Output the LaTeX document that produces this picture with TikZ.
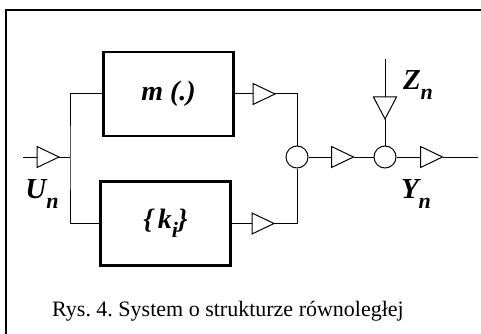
\documentclass[tikz,border=0pt]{standalone}
\usepackage{fontspec}
\setmainfont{Liberation Serif}
\newcommand{\lowsub}[1]{\raisebox{-0.32em}{\fontsize{22}{22}\selectfont #1}}
\begin{document}
\begin{tikzpicture}[x=1pt,y=-1pt,
  line width=1pt,
  blockbox/.style={draw,line width=2.8pt,minimum width=130pt,minimum height=84pt,inner sep=0pt,font=\fontsize{28}{28}\selectfont\bfseries\itshape},
  sumnode/.style={draw,circle,minimum size=22pt,inner sep=0pt,line width=1pt},
  lbl/.style={font=\fontsize{29}{29}\selectfont\bfseries\itshape,inner sep=0pt},
  pics/trir/.style={code={
    \coordinate (-in) at (-11,0);
    \coordinate (-out) at (11,0);
    \draw[line width=1pt] (-11,-10.5) -- (11,0) -- (-11,10.5) -- cycle;}},
  pics/trid/.style={code={
    \coordinate (-in) at (0,-11);
    \coordinate (-out) at (0,11);
    \draw[line width=1pt] (-11.5,-11) -- (0,11) -- (11.5,-11) -- cycle;}},
]
\useasboundingbox (0,0) rectangle (481,334);
% frame
\draw[line width=2pt] (6,334) -- (6,10) -- (481,10);
% blocks
\node[blockbox] (m) at (168.5,94) {m (.)};
\node[blockbox] (k) at (165.5,223.5) {\{\,k\lowsub{i}\}};
% input
\coordinate (uin) at (23,157);
\pic (tu) at (48,157) {trir};
\coordinate (j) at (70,157);
\draw (uin) -- (tu-in);
\draw (tu-out) -- (j);
\draw (m.west) -| (j) |- (k.west);
\node[lbl] (un) at (42,194) {U\lowsub{n}};
% branch outputs
\pic (tm) at (264,94) {trir};
\pic (tk) at (263,223.5) {trir};
\node[sumnode] (s1) at (297,157) {};
\draw (m.east) -- (tm-in);
\draw (k.east) -- (tk-in);
\draw (tm-out) -| (s1.north);
\draw (tk-out) -| (s1.south);
% middle
\pic (tc) at (342.5,157) {trir};
\node[sumnode] (s2) at (385,157) {};
\draw (s1.east) -- (tc-in);
\draw (tc-out) -- (s2.west);
% disturbance
\coordinate (zin) at (385,59);
\pic (tz) at (385,108) {trid};
\draw (zin) -- (tz-in);
\draw (tz-out) -- (s2.north);
\node[lbl] (zn) at (418,85) {Z\lowsub{n}};
% output
\pic (to) at (431.5,157) {trir};
\coordinate (yout) at (478,157);
\draw (s2.east) -- (to-in);
\draw (to-out) -- (yout);
\node[lbl] (yn) at (416,194) {Y\lowsub{n}};
% caption
\node[font=\fontsize{22}{22}\selectfont,inner sep=0pt] (cap) at (228,311) {Rys.\ 4.\ System o strukturze równoległej};
\end{tikzpicture}
\end{document}
